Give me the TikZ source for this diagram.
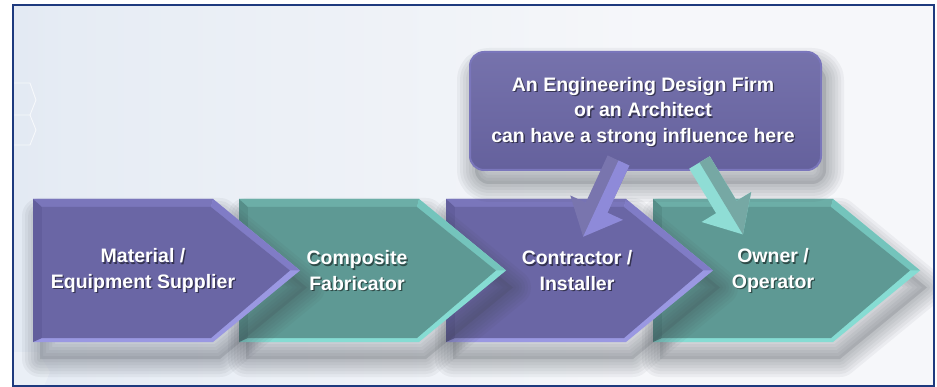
\documentclass[tikz,border=0pt]{standalone}
\usepackage{fontspec}
\setmainfont{Liberation Sans}

% palette
\definecolor{frameblue}{HTML}{1E3A7E}
\definecolor{bgL}{HTML}{C6D3EA}
\definecolor{bgM}{HTML}{E6ECF4}
\definecolor{bgR}{HTML}{F6F7FA}
\definecolor{pubody}{HTML}{6A66A5}
\definecolor{putop}{HTML}{7A76BB}
\definecolor{pudiag}{HTML}{807CC6}
\definecolor{pudark}{HTML}{625E9C}
\definecolor{puedge}{HTML}{9A98E2}
\definecolor{pulight}{HTML}{8E8AD9}
\definecolor{tebody}{HTML}{5E9994}
\definecolor{tetop}{HTML}{6CAEA7}
\definecolor{tediag}{HTML}{74C4BC}
\definecolor{tedark}{HTML}{568E89}
\definecolor{teedge}{HTML}{86DCD3}
\definecolor{telight}{HTML}{8FDDD5}
\definecolor{shadowgrey}{HTML}{3A3F48}

\pgfdeclarehorizontalshading{backdrop}{100bp}{color(0bp)=(bgL); color(28bp)=(bgM); color(60bp)=(bgR); color(100bp)=(bgR)}

\tikzset{
  softlayer/.style={draw=shadowgrey, line width=#1, draw opacity=0.055, line join=round},
  txt/.style={text=white, align=center, inner sep=0pt,
      font=\fontsize{19.5}{25.5}\selectfont\bfseries},
  txtshade/.style={txt, text=black, opacity=0.5},
  hexline/.style={draw=white, line width=0.9pt, opacity=0.7},
  calloutbox/.style={rounded corners=14pt, minimum width=351pt, minimum height=118pt,
      top color=pubody!92!white, bottom color=pubody!95!black,
      draw=putop, line width=2pt, inner sep=0pt}
}

% soft blurred shadow of a closed outline: #1 offset, #2 outline
\newcommand{\softshadow}[2]{%
  \begin{scope}[shift={#1}]
    \foreach \w in {36,30,24,18,12,6}
      \path[softlayer=\w pt] #2;
    \fill[shadowgrey, opacity=0.15] #2;
  \end{scope}%
}

% bevelled chevron: #1 left edge x, #2 colour prefix
\newcommand{\drawchevron}[2]{%
  \pgfmathsetmacro{\cS}{#1+180}%
  \pgfmathsetmacro{\cP}{#1+267}%
  \pgfmathsetmacro{\iL}{#1+9}%
  \pgfmathsetmacro{\iS}{#1+178}%
  \pgfmathsetmacro{\iP}{#1+257}%
  \softshadow{(7,17)}{(#1,199) -- (\cS,199) -- (\cP,270.5) -- (\cS,342) -- (#1,342) -- cycle}
  \fill[#2edge] (#1,199) -- (\cS,199) -- (\cP,270.5) -- (\cS,342) -- (#1,342) -- cycle;
  \fill[#2top] (#1,199) -- (\cS,199) -- (\iS,207) -- (\iL,207) -- cycle;
  \fill[#2diag] (\cS,199) -- (\cP,270.5) -- (\iP,270.5) -- (\iS,207) -- cycle;
  \fill[#2dark] (#1,199) -- (\iL,207) -- (\iL,338) -- (#1,342) -- cycle;
  \fill[#2body] (\iL,207) -- (\iS,207) -- (\iP,270.5) -- (\iS,338) -- (\iL,338) -- cycle;
}

% faceted block arrow: #1 start coordinate, #2 direction angle, #3 lit facet, #4 shaded facet
\newcommand{\blockarrow}[4]{%
  \begin{scope}[shift={(#1)}, rotate=#2]
    \fill[#4] (0,-12) -- (52,-12) -- (52,-29) -- (84,0) -- (52,29) -- (52,12) -- (0,12) -- cycle;
    \fill[#3] (0,0) -- (0,-12) -- (52,-12) -- (52,-29) -- (84,0) -- cycle;
  \end{scope}%
}

% white label with a soft drop shadow: #1 name, #2 position, #3 text
\newcommand{\castlabel}[3]{%
  \node[txtshade, xshift=1.3pt, yshift=-1.4pt] (#1-shade) at (#2) {#3};
  \node[txt] (#1) at (#2) {#3};
}

\begin{document}
\begin{tikzpicture}[x=1pt, y=-1pt]
  \useasboundingbox (0,0) rectangle (937,387);
  \fill[white] (0,0) rectangle (937,387);

  % backdrop
  \shade[shading=backdrop] (13,5) rectangle (934,386);
  \draw[hexline] (13,83) -- (30,83) -- (36,100) -- (30,115) -- (13,115);
  \draw[hexline] (30,115) -- (36,130) -- (30,145) -- (13,145);
  \fill[white, opacity=0.25] (13,352) -- (38,352) -- (50,372) -- (44,386) -- (13,386) -- cycle;

  % value chain, drawn back to front so each tip overlaps the next stage
  \drawchevron{653}{te}
  \drawchevron{446}{pu}
  \drawchevron{239}{te}
  \drawchevron{33}{pu}

  % influence callout
  \softshadow{(5,14)}{[rounded corners=14pt] (470,52) rectangle (821,170)}
  \node[calloutbox] (firm) at (645.5,111) {};

  % influence arrows into the contractor and owner stages
  \coordinate (firm-a) at (618.5,160.5);
  \coordinate (firm-b) at (699.5,162.5);
  \blockarrow{firm-a}{245.1}{pulight}{pubody!90!white}
  \blockarrow{firm-b}{301.1}{tebody!85!white}{telight}

  % labels
  \castlabel{firm-text}{643,112}{An Engineering Design Firm\\or an Architect\\can have a strong influence here}
  \castlabel{supplier}{143,270.5}{Material /\\Equipment Supplier}
  \castlabel{fabricator}{357,270.5}{Composite\\Fabricator}
  \castlabel{contractor}{577,270.5}{Contractor /\\Installer}
  \castlabel{owner}{773,270.5}{Owner /\\Operator}

  % frame on top so shadows stay inside it
  \fill[white] (0,0) rectangle (937,5) (0,0) rectangle (13,387) (934,0) rectangle (937,387);
  \draw[frameblue, line width=2pt] (13,5) rectangle (934,386);
\end{tikzpicture}
\end{document}
